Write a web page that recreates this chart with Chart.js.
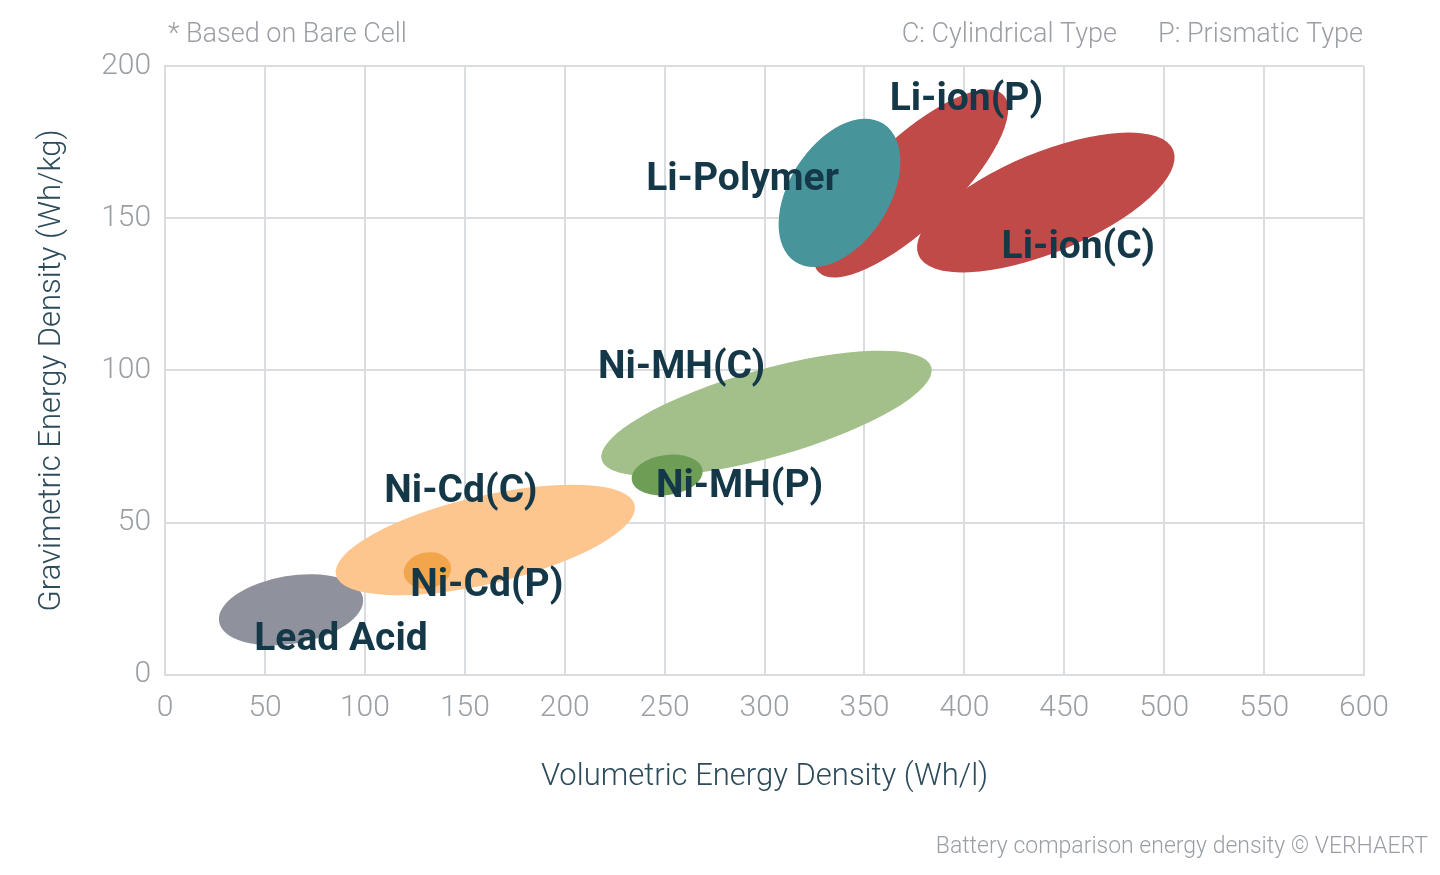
<!DOCTYPE html>
<html><head><meta charset="utf-8">
<script src="https://cdn.jsdelivr.net/npm/chart.js@4"></script>
<style>html,body{margin:0;padding:0;background:#fff}#w{width:1440px;height:875px}</style>
</head><body><div id="w"><canvas id="c"></canvas></div>
<script>
const names = ["Lead Acid","Ni-Cd(C)","Ni-Cd(P)","Ni-MH(C)","Ni-MH(P)","Li-ion(C)","Li-ion(P)","Li-Polymer"];
// major axis endpoints (Wh/l, Wh/kg) and half minor axis (Wh/l units)
const x1 = [27, 85.5, 119.5, 218.5, 233.5, 377, 327, 315.5];
const y1 = [17.4, 32.8, 32.8, 70.6, 64, 137.9, 132.3, 135.6];
const x2 = [99, 235, 143, 383.5, 269, 504.5, 419.5, 359.5];
const y2 = [25.3, 55.8, 35.8, 101.1, 67.3, 172.4, 190.5, 181];
const minorHalf = [17, 22, 9, 22, 10, 25, 22, 25];
const colors = ["#8f919c","#fdc68f","#f3a54c","#a3bf8a","#6e9e55","#bf4a48","#bf4a48","#48949b"];
const labelX = [88, 148, 161, 258.5, 287.5, 457, 401, 289];
const labelY = [11.5, 60, 29, 100.8, 61.7, 140, 188.8, 162.5];
const xTicks = [0,50,100,150,200,250,300,350,400,450,500,550,600];
const yTicks = [0,50,100,150,200];

const ellipses = {
  id:'ellipses',
  beforeDatasetsDraw(chart){
    const {ctx, scales:{x,y}, chartArea:a} = chart;
    ctx.save();
    ctx.beginPath(); ctx.rect(a.left,a.top,a.right-a.left,a.bottom-a.top); ctx.clip();
    names.forEach((n,i)=>{
      const px1=x.getPixelForValue(x1[i]), py1=y.getPixelForValue(y1[i]);
      const px2=x.getPixelForValue(x2[i]), py2=y.getPixelForValue(y2[i]);
      const cx=(px1+px2)/2, cy=(py1+py2)/2;
      const rx=Math.hypot(px2-px1,py2-py1)/2;
      const ry=x.getPixelForValue(minorHalf[i])-x.getPixelForValue(0);
      ctx.beginPath(); ctx.ellipse(cx,cy,rx,ry,Math.atan2(py2-py1,px2-px1),0,Math.PI*2);
      ctx.fillStyle=colors[i]; ctx.fill();
    });
    ctx.restore();
  },
  afterDatasetsDraw(chart){
    const {ctx, scales:{x,y}} = chart;
    ctx.save();
    ctx.font='bold 39px Roboto'; ctx.fillStyle='#143848'; ctx.textAlign='center'; ctx.textBaseline='middle';
    names.forEach((n,i)=>ctx.fillText(n,x.getPixelForValue(labelX[i]),y.getPixelForValue(labelY[i])));
    ctx.font='300 27px Roboto'; ctx.fillStyle='#9a9fa5'; ctx.textBaseline='middle';
    ctx.textAlign='left'; ctx.fillText('* Based on Bare Cell',168,35);
    ctx.textAlign='right'; ctx.fillText('P: Prismatic Type',1363,35); ctx.fillText('C: Cylindrical Type',1117,35);
    ctx.font='300 23px Roboto'; ctx.fillText('Battery comparison energy density © VERHAERT',1428,847);
    ctx.restore();
  }
};

new Chart(document.getElementById('c'),{
  type:'scatter',
  data:{datasets:[{data:[],pointRadius:0}]},
  options:{
    responsive:true, maintainAspectRatio:false, animation:false,
    layout:{padding:{top:66,right:76,bottom:75,left:30}},
    plugins:{legend:{display:false},tooltip:{enabled:false}},
    scales:{
      x:{type:'linear',min:0,max:600,
        afterBuildTicks(s){s.ticks=xTicks.map(v=>({value:v}));},
        grid:{color:'#dadde0',lineWidth:2,drawTicks:false},border:{color:'#dadde0',width:2},
        ticks:{color:'#9a9fa5',font:{family:'Roboto',size:30,weight:'300'},padding:16},
        title:{display:true,text:'Volumetric Energy Density (Wh/l)',color:'#2c4b5b',font:{family:'Roboto',size:31,weight:'300'},padding:{top:16}}},
      y:{type:'linear',min:0,max:200,
        afterBuildTicks(s){s.ticks=yTicks.map(v=>({value:v}));},
        grid:{color:'#dadde0',lineWidth:2,drawTicks:false},border:{color:'#dadde0',width:2},
        ticks:{color:'#9a9fa5',font:{family:'Roboto',size:30,weight:'300'},padding:14},
        title:{display:true,text:'Gravimetric Energy Density (Wh/kg)',color:'#2c4b5b',font:{family:'Roboto',size:31,weight:'300'},padding:{bottom:16}}}
    }
  },
  plugins:[ellipses]
});
</script></body></html>
